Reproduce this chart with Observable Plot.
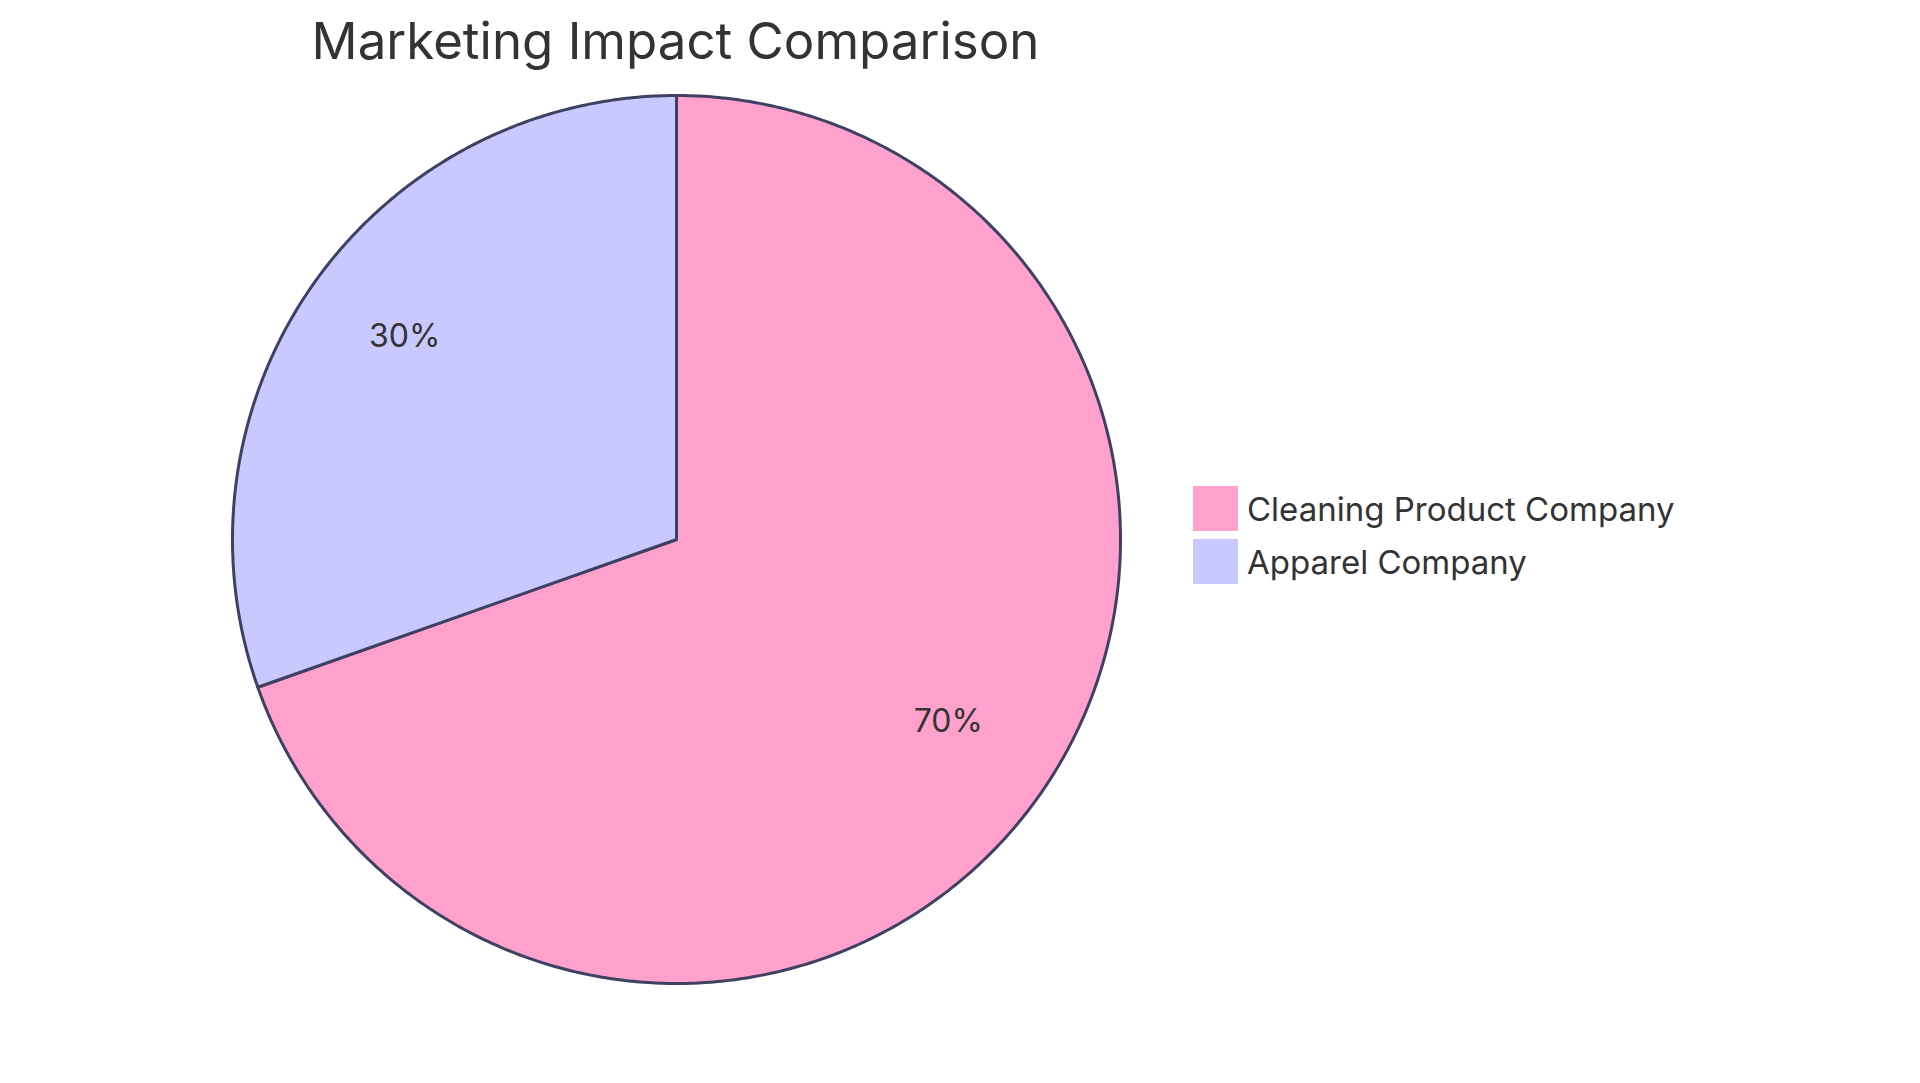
<!DOCTYPE html>
<html>
<head>
<meta charset="utf-8">
<script src="https://cdn.jsdelivr.net/npm/d3@7"></script>
<script src="https://cdn.jsdelivr.net/npm/@observablehq/plot@0.6"></script>
<style>
  html, body { margin: 0; padding: 0; background: #ffffff; }
  body { width: 1920px; height: 1083px; position: relative; overflow: hidden; font-family: Inter, "Noto Sans", sans-serif; }
  #title { position: absolute; left: 0; width: 1351px; top: 9px; text-align: center; font-size: 51px; line-height: 64px; color: #333333; font-family: Inter, sans-serif; font-weight: 400; }
  #chart { position: absolute; left: 227.5px; top: 91px; }
  #legend { position: absolute; left: 1193px; top: 486px; }
  .lg-swatch { padding-bottom: 8px !important; margin: 0 !important; }
  .lg-swatch > svg { margin-right: 9px !important; }
  .lg-swatches { margin: 0 !important; }
</style>
</head>
<body>
<div id="title">Marketing Impact Comparison</div>
<div id="chart"></div>
<div id="legend"></div>
<script>
const categories = ["Cleaning Product Company", "Apparel Company"];
const values = [69.6, 30.4];
const colors = ["#FFA1CC", "#C9C9FF"];
const strokeColor = "#3E4162";

const rows = categories.map((label, i) => ({label, value: values[i]}));
const total = d3.sum(values);
const arcs = d3.pie().sort(null).value(d => d.value)(rows);

// outline geometry for each slice (centre, arc, back to centre)
const outline = [];
for (const a of arcs) {
  outline.push({label: a.data.label, x: 0, y: 0});
  const n = Math.max(2, Math.ceil((a.endAngle - a.startAngle) / (Math.PI / 360)));
  for (let k = 0; k <= n; k++) {
    const t = a.startAngle + (a.endAngle - a.startAngle) * k / n;
    outline.push({label: a.data.label, x: Math.sin(t), y: Math.cos(t)});
  }
}
const labelPts = arcs.map(a => {
  const m = (a.startAngle + a.endAngle) / 2;
  return {label: a.data.label, x: 0.75 * Math.sin(m), y: 0.75 * Math.cos(m),
          text: `${Math.round(a.data.value / total * 100)}%`};
});

const size = 896;
const chart = Plot.plot({
  width: size,
  height: size,
  margin: 4,
  x: {domain: [-1, 1], axis: null},
  y: {domain: [-1, 1], axis: null},
  color: {domain: categories, range: colors},
  style: {background: "transparent", overflow: "visible"},
  marks: [
    Plot.line(outline, {x: "x", y: "y", z: "label", fill: "label", stroke: strokeColor, strokeWidth: 3, curve: "linear-closed", strokeLinejoin: "round"}),
    Plot.text(labelPts, {x: "x", y: "y", text: "text", fontSize: 32, fill: "#333333", fontFamily: "Inter, sans-serif", lineAnchor: "middle", dy: -10})
  ]
});
document.getElementById("chart").appendChild(chart);

const legend = Plot.legend({
  color: {domain: categories, range: colors},
  legend: "swatches",
  columns: 1,
  swatchSize: 45,
  className: "lg",
  style: {fontSize: "33px", fontFamily: "Inter, sans-serif", color: "#333333"}
});
document.getElementById("legend").appendChild(legend);
</script>
</body>
</html>
